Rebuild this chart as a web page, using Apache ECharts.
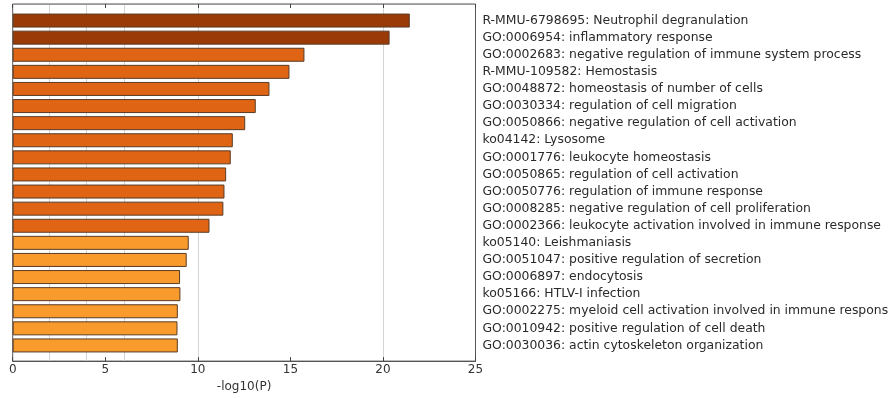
<!DOCTYPE html>
<html>
<head>
<meta charset="utf-8">
<script src="https://cdn.jsdelivr.net/npm/echarts@6/dist/echarts.min.js"></script>
<style>
  html, body { margin: 0; padding: 0; background: #fff; }
  #chart { width: 892px; height: 398px; }
</style>
</head>
<body>
<div id="chart"></div>
<script>
// Enriched terms, top to bottom
const terms = [
  'R-MMU-6798695: Neutrophil degranulation',
  'GO:0006954: inflammatory response',
  'GO:0002683: negative regulation of immune system process',
  'R-MMU-109582: Hemostasis',
  'GO:0048872: homeostasis of number of cells',
  'GO:0030334: regulation of cell migration',
  'GO:0050866: negative regulation of cell activation',
  'ko04142: Lysosome',
  'GO:0001776: leukocyte homeostasis',
  'GO:0050865: regulation of cell activation',
  'GO:0050776: regulation of immune response',
  'GO:0008285: negative regulation of cell proliferation',
  'GO:0002366: leukocyte activation involved in immune response',
  'ko05140: Leishmaniasis',
  'GO:0051047: positive regulation of secretion',
  'GO:0006897: endocytosis',
  'ko05166: HTLV-I infection',
  'GO:0002275: myeloid cell activation involved in immune respons',
  'GO:0010942: positive regulation of cell death',
  'GO:0030036: actin cytoskeleton organization'
];

// -log10(P) for each term
const logP = [
  21.45, 20.36, 15.76, 14.95, 13.87, 13.13, 12.56, 11.89, 11.78, 11.53,
  11.44, 11.38, 10.63, 9.51, 9.40, 9.04, 9.06, 8.92, 8.90, 8.92
];

// x-axis tick values and reference lines
const xTicks = [0, 5, 10, 15, 20, 25];
const refLines = [2, 4, 6, 10, 20];

// bar colour by significance band
function barColor(v) {
  if (v >= 20) return '#9a3a07';
  if (v >= 10) return '#df6413';
  return '#f89a2c';
}

const font = 'DejaVu Sans';
const chart = echarts.init(document.getElementById('chart'), null, { renderer: 'canvas' });

const L = 12.7, R = 892 - 475.5;

chart.setOption({
  animation: false,
  backgroundColor: '#ffffff',
  grid: [
    // frame grid: border, ticks, labels, reference lines
    { left: L, right: R, top: 4, bottom: 35.3, show: true, borderColor: '#555', borderWidth: 1, backgroundColor: 'transparent' },
    // bars
    { left: L, right: R, top: 12, bottom: 44 }
  ],
  xAxis: [
    {
      gridIndex: 0, type: 'value', min: xTicks[0], max: xTicks[xTicks.length - 1], interval: 5,
      position: 'bottom',
      axisLine: { show: true, lineStyle: { color: '#555', width: 1 } },
      axisTick: { show: true, inside: true, length: 4, lineStyle: { color: '#444' } },
      axisLabel: { fontFamily: font, fontSize: 12, color: '#333', margin: 3 },
      splitLine: { show: false },
      name: '-log10(P)', nameLocation: 'middle', nameGap: 17,
      nameTextStyle: { fontFamily: font, fontSize: 12, color: '#333' }
    },
    {
      gridIndex: 0, type: 'value', min: 0, max: 25, interval: 5,
      position: 'top',
      axisLine: { show: true, lineStyle: { color: '#999', width: 1 } },
      axisTick: { show: true, inside: true, length: 4, lineStyle: { color: '#444' } },
      axisLabel: { show: false },
      splitLine: { show: false }
    },
    {
      gridIndex: 0, type: 'value', min: 0, max: 25,
      position: 'bottom', offset: 0,
      axisLine: { show: false },
      axisTick: { show: false, customValues: refLines },
      axisLabel: { show: false, customValues: refLines },
      splitLine: { show: true, lineStyle: { color: '#d4d4d4', width: 1 } }
    },
    {
      gridIndex: 1, type: 'value', min: 0, max: 25,
      show: false
    }
  ],
  yAxis: [
    { gridIndex: 0, type: 'value', show: false },
    {
      gridIndex: 1, type: 'category', data: terms, inverse: true,
      position: 'right',
      axisLine: { show: false },
      axisTick: { show: false },
      splitLine: { show: false },
      axisLabel: { fontFamily: font, fontSize: 12.4, color: '#2a2a2a', margin: 7, align: 'left' }
    }
  ],
  series: [
    {
      type: 'bar',
      xAxisIndex: 3, yAxisIndex: 1,
      barWidth: 14,
      data: logP.map(v => ({
        value: v,
        itemStyle: { color: barColor(v), borderColor: '#5a3b25', borderWidth: 1 }
      }))
    }
  ]
});
</script>
</body>
</html>
